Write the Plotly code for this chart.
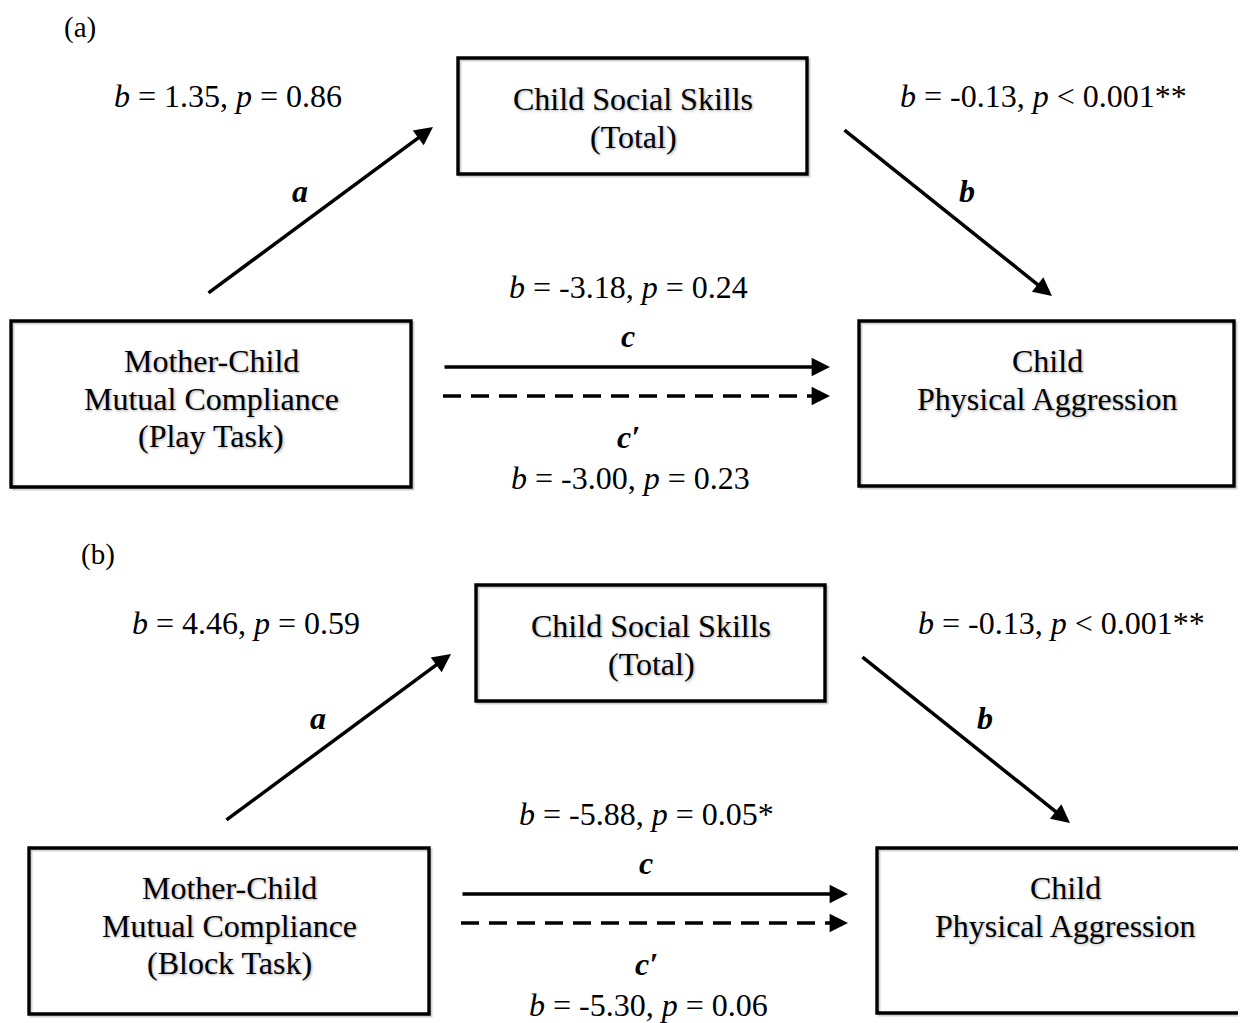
import plotly.graph_objects as go

W, H = 1246, 1023
OFF = 8  # default page body margin

# ---- data ----
panel_labels = ["(a)", "(b)"]
mediator_label = ["Child Social Skills", "(Total)"]
predictor_labels = [["Mother-Child", "Mutual Compliance", "(Play Task)"],
                    ["Mother-Child", "Mutual Compliance", "(Block Task)"]]
outcome_label = ["Child", "Physical Aggression"]
path_names = ["a", "b", "c", "c′"]
a_coef = ["1.35", "4.46"]
a_pval = ["= 0.86", "= 0.59"]
b_coef = ["-0.13", "-0.13"]
b_pval = ["< 0.001**", "< 0.001**"]
c_coef = ["-3.18", "-5.88"]
c_pval = ["= 0.24", "= 0.05*"]
cp_coef = ["-3.00", "-5.30"]
cp_pval = ["= 0.23", "= 0.06"]

FONT = "Liberation Serif, Times New Roman, serif"
FS = 32
LS = 37.5

fig = go.Figure()
shapes = []
annots = []


def coef_text(b, p):
    return f"<i>b</i> = {b}, <i>p</i> {p}"


def txt(x, y, text, size=FS, shadow=None, yanchor="middle"):
    f = dict(family=FONT, size=size, color="black")
    if shadow:
        f["shadow"] = shadow
    annots.append(dict(x=x, y=y, xref="x", yref="y", text=text, showarrow=False,
                       xanchor="center", yanchor=yanchor, font=f))


def lines(x, y0, items, shadow=None):
    for k, t in enumerate(items):
        txt(x, y0 + k * LS, t, shadow=shadow)


def box(x0, y0, x1, y1):
    shapes.append(dict(type="rect", x0=x0 + 2, y0=y0 + 2, x1=x1 + 2, y1=y1 + 2,
                       xref="x", yref="y", line=dict(color="rgba(0,0,0,0.18)", width=3),
                       layer="below"))
    shapes.append(dict(type="rect", x0=x0, y0=y0, x1=x1, y1=y1, xref="x", yref="y",
                       line=dict(color="black", width=3.4), fillcolor="rgba(0,0,0,0)"))


AH = dict(showarrow=True, arrowhead=2, arrowsize=1.05, arrowwidth=3.5, arrowcolor="black", text="")


def arrow(x0, y0, x1, y1):
    annots.append(dict(x=x1, y=y1, ax=x0, ay=y0, xref="x", yref="y", axref="x", ayref="y", **AH))


def dashed_arrow(x0, y0, x1, y1):
    shapes.append(dict(type="line", x0=x0, y0=y0, x1=x1 - 12, y1=y1, xref="x", yref="y",
                       line=dict(color="black", width=3.5, dash="18px,10px")))
    annots.append(dict(x=x1, y=y1, ax=x1 - 14, ay=y1, xref="x", yref="y", axref="x", ayref="y", **AH))


SH = "1px 1px 3px rgba(0,0,0,0.35)"

for i in range(2):
    dx, dy = 18 * i, 527 * i
    txt(80 + dx, 9 + dy, panel_labels[i], size=29, yanchor="top")
    # boxes
    box(458 + dx, 58 + dy, 807 + dx, 174 + dy)
    box(11 + dx, 321 + dy, 411 + dx, 487 + dy)
    box(859 + dx, 321 + dy, 1234 + dx, 486 + dy)
    lines(633 + dx, 99 + dy, mediator_label, shadow=SH)
    lines(211 + dx, 361 + dy, predictor_labels[i], shadow=SH)
    lines(1047 + dx, 361 + dy, outcome_label, shadow=SH)
    # arrows
    arrow(207 + dx, 294 + dy, 433 + dx, 127 + dy)
    arrow(843 + dx, 129 + dy, 1052 + dx, 296 + dy)
    arrow(443 + dx, 367 + dy, 830 + dx, 367 + dy)
    dashed_arrow(443 + dx, 396 + dy, 830 + dx, 396 + dy)
    # path labels
    txt(300 + dx, 191 + dy, f"<b><i>{path_names[0]}</i></b>")
    txt(967 + dx, 191 + dy, f"<b><i>{path_names[1]}</i></b>")
    txt(628 + dx, 336 + dy, f"<b><i>{path_names[2]}</i></b>")
    txt(628 + dx, 437 + dy, f"<b><i>{path_names[3]}</i></b>")
    # coefficients
    txt(228 + dx, 96 + dy, coef_text(a_coef[i], a_pval[i]))
    txt(1043 + dx, 96 + dy, coef_text(b_coef[i], b_pval[i]))
    txt(628 + dx, 287 + dy, coef_text(c_coef[i], c_pval[i]))
    txt(630 + dx, 478 + dy, coef_text(cp_coef[i], cp_pval[i]))

fig.update_layout(
    width=W - OFF, height=H - OFF, margin=dict(l=0, r=0, t=0, b=0),
    paper_bgcolor="white", plot_bgcolor="white",
    xaxis=dict(range=[OFF, W], visible=False, fixedrange=True),
    yaxis=dict(range=[H, OFF], visible=False, fixedrange=True),
    shapes=shapes, annotations=annots, showlegend=False,
)
fig.write_html("out.html")
